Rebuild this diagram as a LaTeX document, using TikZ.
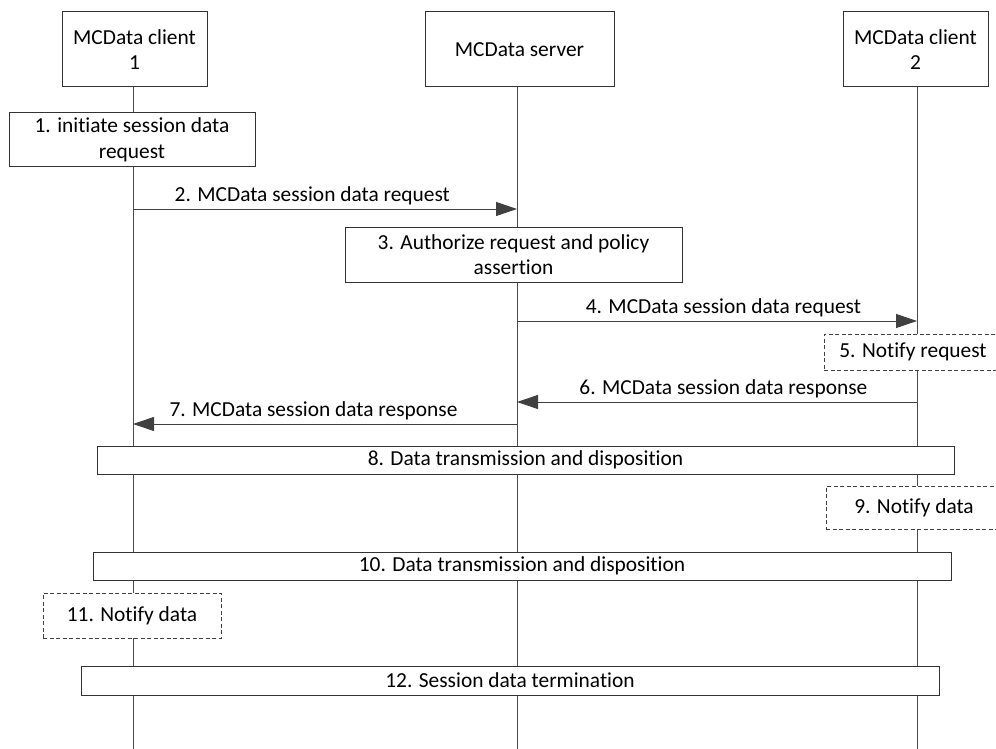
\documentclass[tikz,border=0pt]{standalone}
\usepackage{fontspec}
\setmainfont{Carlito}[Ligatures={NoCommon,NoRequired,NoContextual}]
\usetikzlibrary{arrows.meta, positioning}
\newcommand{\seqfont}{\fontsize{21.4pt}{25.5pt}\selectfont}
\tikzset{
  actor/.style={draw=black!80, fill=white, line width=1pt, minimum width=145pt, minimum height=75pt, align=center, font=\seqfont},
  action/.style={draw=black!80, fill=white, line width=1pt, align=center, inner sep=0pt, font=\seqfont},
  notice/.style={action, draw=black!75, dash pattern=on 4pt off 2.5pt},
  lifeline/.style={draw=black!70, line width=0.9pt},
  msg/.style={draw=black!75, line width=0.9pt, -{Triangle[length=21pt, width=14pt]}},
  msgtext/.style={anchor=base, yshift=8pt, font=\seqfont, inner sep=0pt}
}
\begin{document}
\begin{tikzpicture}[x=1pt, y=1pt]
\useasboundingbox (0,0) rectangle (996,-749);
\clip (0,0) rectangle (996,-749);
\node[actor] (c1) at (134.5,-49.5) {MCData client\\1};
\node[actor, minimum width=189pt, right=217pt of c1] (srv) {MCData server};
\node[actor, right=228pt of srv] (c2) {MCData client\\2};
\coordinate (l1) at ([xshift=-1.5pt]c1.south);
\coordinate (l2) at ([xshift=-2.5pt]srv.south);
\coordinate (l3) at ([xshift=1.5pt]c2.south);
\coordinate (bot) at (0,-749);
\draw[lifeline] (l1) -- (l1 |- bot);
\draw[lifeline] (l2) -- (l2 |- bot);
\draw[lifeline] (l3) -- (l3 |- bot);
\coordinate (m2) at (0,-209);
\coordinate (m4) at (0,-321);
\coordinate (m6) at (0,-402);
\coordinate (m7) at (0,-424);
\node[action, minimum width=246pt, minimum height=54pt] (s1) at (132,-140) {1. initiate session data\\request};
\draw[msg] (l1 |- m2) -- node[msgtext, pos=0.467] {2. MCData session data request} (l2 |- m2);
\node[action, minimum width=337pt, minimum height=55pt] (s3) at (513.5,-254.5) {3. Authorize request and policy\\assertion};
\draw[msg] (l2 |- m4) -- node[msgtext, pos=0.516] {4. MCData session data request} (l3 |- m4);
\node[notice, minimum width=178pt, minimum height=36pt] (s5) at (913,-352) {5. Notify request};
\draw[msg] (l3 |- m6) -- node[msgtext, pos=0.484] {6. MCData session data response} (l2 |- m6);
\draw[msg] (l2 |- m7) -- node[msgtext, pos=0.53] {7. MCData session data response} (l1 |- m7);
\node[action, minimum width=857pt, minimum height=28pt] (s8) at (525.5,-460) {8. Data transmission and disposition};
\node[notice, minimum width=176pt, minimum height=43pt] (s9) at (914,-507.5) {9. Notify data};
\node[action, minimum width=858pt, minimum height=28pt] (s10) at (522,-566) {10. Data transmission and disposition};
\node[notice, minimum width=178pt, minimum height=45pt] (s11) at (132,-615.5) {11. Notify data};
\node[action, minimum width=858pt, minimum height=29pt] (s12) at (510,-680.5) {12. Session data termination};
\end{tikzpicture}
\end{document}
